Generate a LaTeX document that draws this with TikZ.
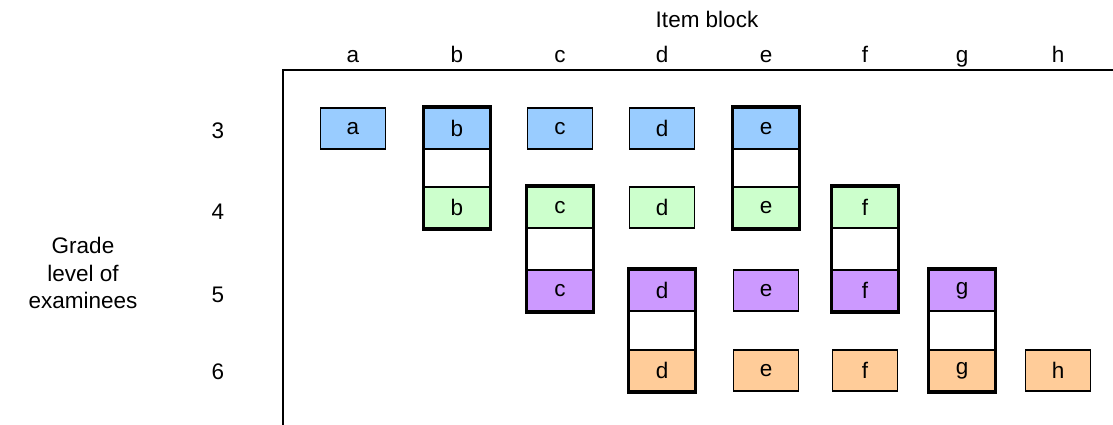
\documentclass[tikz,border=0pt]{standalone}
\usepackage{fontspec}
\setmainfont{Liberation Sans}
\begin{document}
\begin{tikzpicture}[x=1pt,y=-1pt,
  every node/.style={font=\fontsize{22.5}{27}\selectfont},
  cell/.style={draw=black,line width=1.8pt,minimum width=65pt,minimum height=41pt,inner sep=0pt,anchor=center},
  g3/.style={cell,fill=blue3},
  g4/.style={cell,fill=green4},
  g5/.style={cell,fill=purple5},
  g6/.style={cell,fill=orange6},
  frame/.style={draw=black,line width=3.6pt},
  axis/.style={draw=black,line width=1.5pt},
  lbl/.style={inner sep=0pt,anchor=center}]
\definecolor{blue3}{HTML}{99CCFF}
\definecolor{green4}{HTML}{CCFFCC}
\definecolor{purple5}{HTML}{CC99FF}
\definecolor{orange6}{HTML}{FFCC99}
\useasboundingbox (0,0) rectangle (1113,425);
% axes
\coordinate (o) at (283,70);
\coordinate (xe) at (1113,70);
\coordinate (ye) at (283,425);
\draw[axis] (xe) -- (o) -- (ye);
% titles
\node[lbl] (title) at (707,19) {Item block};
\node[lbl,align=center,font=\fontsize{22.5}{27.5}\selectfont] (ylab) at (83,273) {Grade\\level of\\examinees};
% column labels
\foreach \n/\x in {a/353,b/457,c/560,d/662,e/766,f/865,g/962,h/1058}
  \node[lbl,anchor=base] (col\n) at (\x,63) {\n};
% row labels
\foreach \r/\y in {3/131,4/212,5/295,6/372}
  \node[lbl] (row\r) at (218,\y) {\r};
% row 3
\node[g3] (a3) at (353,128.5) {a};
\node[g3] (b3) at (457,128.5) {b};
\node[g3] (c3) at (560,128.5) {c};
\node[g3] (d3) at (662,128.5) {d};
\node[g3] (e3) at (766,128.5) {e};
% row 4
\node[g4] (b4) at (457,207.5) {b};
\node[g4] (c4) at (560,207.5) {c};
\node[g4] (d4) at (662,207.5) {d};
\node[g4] (e4) at (766,207.5) {e};
\node[g4] (f4) at (865,207.5) {f};
% row 5
\node[g5] (c5) at (560,290.5) {c};
\node[g5] (d5) at (662,290.5) {d};
\node[g5] (e5) at (766,290.5) {e};
\node[g5] (f5) at (865,290.5) {f};
\node[g5] (g5) at (962,290.5) {g};
% row 6
\node[g6] (d6) at (662,370.5) {d};
\node[g6] (e6) at (766,370.5) {e};
\node[g6] (f6) at (865,370.5) {f};
\node[g6] (g6) at (962,370.5) {g};
\node[g6] (h6) at (1058,370.5) {h};
% thick frames around linked blocks
\draw[frame] (b3.north west) rectangle (b4.south east);
\draw[frame] (e3.north west) rectangle (e4.south east);
\draw[frame] (c4.north west) rectangle (c5.south east);
\draw[frame] (f4.north west) rectangle (f5.south east);
\draw[frame] (d5.north west) rectangle (d6.south east);
\draw[frame] (g5.north west) rectangle (g6.south east);
\end{tikzpicture}
\end{document}
